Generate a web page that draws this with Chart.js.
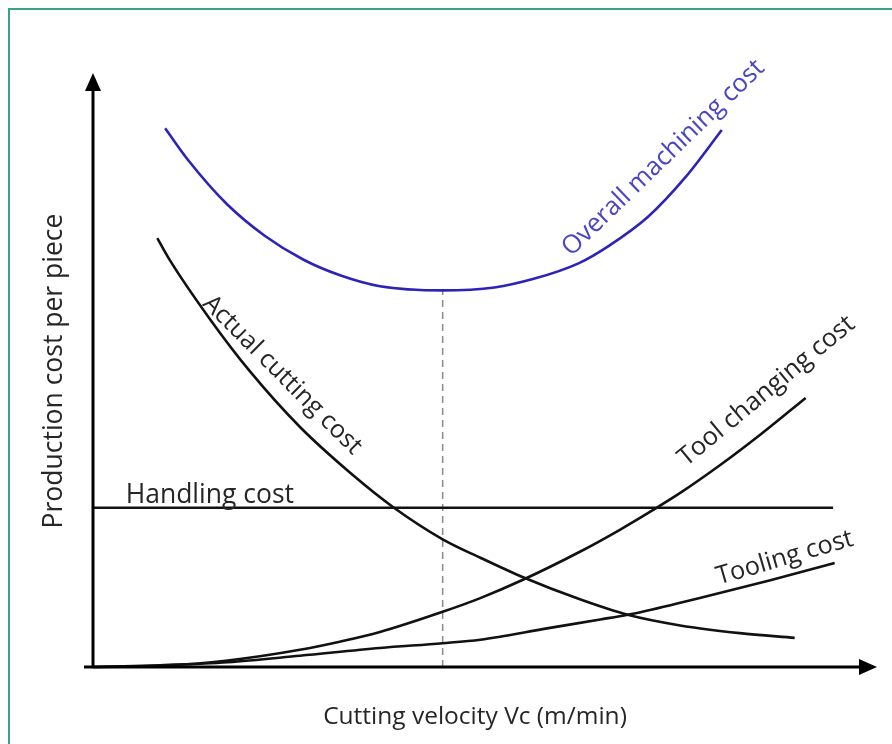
<!DOCTYPE html>
<html>
<head>
<meta charset="utf-8">
<script src="https://cdn.jsdelivr.net/npm/chart.js@4.4.1/dist/chart.umd.min.js"></script>
<style>
  html, body { margin: 0; padding: 0; background: #fff; }
  canvas { display: block; }
</style>
</head>
<body>
<canvas id="chart" width="892" height="744"></canvas>
<script>
// Axis units: cutting velocity 0-100 (arbitrary), cost per piece 0-100 (arbitrary)
const overallX = [9.2, 12.1, 17.1, 21.9, 26.8, 31.6, 36.6, 44.6, 51.2, 56.1, 62.0, 65.8, 70.8, 75.6, 80.2];
const overallY = [90.7, 85.4, 77.9, 72.6, 68.6, 65.9, 64.1, 63.4, 63.9, 65.3, 68.0, 70.9, 75.8, 82.5, 90.4];

const cuttingX = [8.2, 9.8, 14.9, 20.0, 26.4, 32.8, 38.3, 44.6, 49.4, 54.7, 62.1, 68.2, 74.9, 82.5, 89.5];
const cuttingY = [72.2, 68.5, 58.6, 49.8, 40.4, 32.7, 26.9, 21.5, 18.4, 15.2, 11.4, 8.8, 7.0, 5.7, 4.9];

const toolChangeX = [0, 8.6, 17.2, 26.4, 31.6, 36.6, 44.6, 49.4, 54.7, 62.1, 67.2, 71.4, 74.9, 80.0, 85.1, 90.9];
const toolChangeY = [0, 0.2, 1.1, 2.9, 4.3, 5.9, 9.3, 11.6, 14.6, 19.4, 23.1, 26.4, 29.3, 34.0, 39.1, 45.3];

const toolingX = [0, 8.6, 17.2, 26.4, 36.6, 44.6, 49.4, 57.9, 64.7, 68.2, 74.9, 77.4, 86.4, 94.6];
const toolingY = [0, 0.3, 0.8, 1.9, 3.2, 4.0, 4.6, 6.5, 8.0, 8.8, 10.8, 11.6, 14.6, 17.5];

const handlingX = [0, 94.4];
const handlingY = [26.8, 26.8];

// optimum velocity: bottom of the overall cost curve
const optimumX = 44.6;
const optimumY = 63.4;

const xTitle = 'Cutting velocity Vc (m/min)';
const yTitle = 'Production cost per piece';

// curve captions: anchor is the centre of the text baseline, in axis units
const curveLabels = [
  { text: 'Overall machining cost', x: 73.4, y: 84.8, angle: -44, size: 25.5, color: '#4a44c6' },
  { text: 'Actual cutting cost', x: 23.5, y: 48.3, angle: 45, size: 25, color: '#262626' },
  { text: 'Tool changing cost', x: 86.5, y: 45.5, angle: -39.6, size: 25.5, color: '#262626' },
  { text: 'Tooling cost', x: 88.5, y: 17.2, angle: -16.2, size: 25.3, color: '#262626' },
  { text: 'Handling cost', x: 14.9, y: 27.6, angle: 0, size: 26.5, color: '#262626' }
];

const FONT = '"Open Sans", "Noto Sans", sans-serif';

function pts(xs, ys) {
  return xs.map((x, i) => ({ x: x, y: ys[i] }));
}

function curve(data, color) {
  return {
    data: data,
    borderColor: color,
    borderWidth: 2.6,
    pointRadius: 0,
    cubicInterpolationMode: 'monotone',
    fill: false,
    clip: false
  };
}

// frame line, arrowed axes, titles and curve captions
const decorations = {
  id: 'decorations',
  beforeDraw(chart) {
    const ctx = chart.ctx;
    ctx.save();
    ctx.fillStyle = '#ffffff';
    ctx.fillRect(0, 0, chart.width, chart.height);
    ctx.strokeStyle = '#3d9f86';
    ctx.lineWidth = 2;
    ctx.beginPath();
    ctx.moveTo(9, chart.height);
    ctx.lineTo(9, 9);
    ctx.lineTo(chart.width, 9);
    ctx.stroke();
    ctx.restore();
  },
  afterDatasetsDraw(chart) {
    const ctx = chart.ctx;
    const xs = chart.scales.x;
    const ys = chart.scales.y;
    const x0 = xs.getPixelForValue(0);
    const y0 = ys.getPixelForValue(0);
    const top = chart.chartArea.top;
    const right = chart.chartArea.right;

    ctx.save();
    ctx.strokeStyle = '#000';
    ctx.fillStyle = '#000';
    ctx.lineWidth = 3;
    ctx.beginPath();
    ctx.moveTo(x0, y0 + 1);
    ctx.lineTo(x0, top + 14);
    ctx.moveTo(x0 - 9, y0);
    ctx.lineTo(right - 14, y0);
    ctx.stroke();

    ctx.beginPath();
    ctx.moveTo(x0, top);
    ctx.lineTo(x0 - 8, top + 18);
    ctx.lineTo(x0 + 8, top + 18);
    ctx.closePath();
    ctx.fill();

    ctx.beginPath();
    ctx.moveTo(right, y0);
    ctx.lineTo(right - 18, y0 - 8);
    ctx.lineTo(right - 18, y0 + 8);
    ctx.closePath();
    ctx.fill();

    ctx.fillStyle = '#262626';
    ctx.textAlign = 'center';
    ctx.textBaseline = 'alphabetic';
    ctx.font = '24.5px ' + FONT;
    ctx.fillText(xTitle, 475, 724);

    ctx.save();
    ctx.font = '26.5px ' + FONT;
    ctx.translate(62, 371);
    ctx.rotate(-Math.PI / 2);
    ctx.fillText(yTitle, 0, 0);
    ctx.restore();

    curveLabels.forEach(l => {
      ctx.save();
      ctx.font = l.size + 'px ' + FONT;
      ctx.translate(xs.getPixelForValue(l.x), ys.getPixelForValue(l.y));
      ctx.rotate(l.angle * Math.PI / 180);
      ctx.fillStyle = l.color;
      ctx.fillText(l.text, 0, 0);
      ctx.restore();
    });
    ctx.restore();
  }
};

new Chart(document.getElementById('chart'), {
  type: 'line',
  data: {
    datasets: [
      curve(pts(overallX, overallY), '#2e23b8'),
      curve(pts(cuttingX, cuttingY), '#111'),
      curve(pts(toolChangeX, toolChangeY), '#111'),
      curve(pts(toolingX, toolingY), '#111'),
      Object.assign(curve(pts(handlingX, handlingY), '#111'), { cubicInterpolationMode: 'default', tension: 0 }),
      {
        data: pts([optimumX, optimumX], [0, optimumY]),
        borderColor: '#8a8a8a',
        borderWidth: 1.5,
        borderDash: [7, 5],
        pointRadius: 0,
        tension: 0,
        clip: false
      }
    ]
  },
  options: {
    responsive: false,
    animation: false,
    layout: { padding: { left: 93, top: 73, right: 15, bottom: 77 } },
    scales: {
      x: { type: 'linear', min: 0, max: 100, display: false },
      y: { type: 'linear', min: 0, max: 100, display: false }
    },
    plugins: {
      legend: { display: false },
      tooltip: { enabled: false }
    }
  },
  plugins: [decorations]
});
</script>
</body>
</html>
